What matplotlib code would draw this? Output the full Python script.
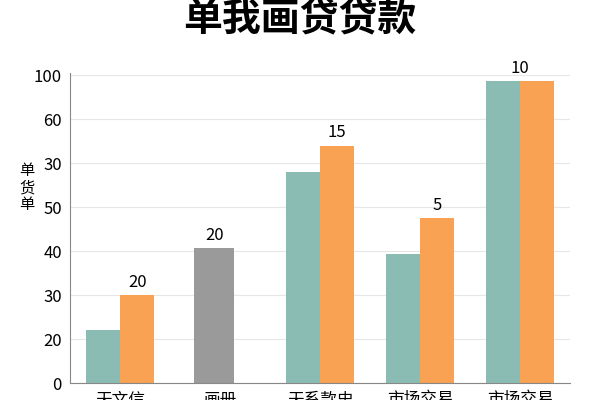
import matplotlib
matplotlib.use("Agg")
import matplotlib.pyplot as plt

plt.rcParams['font.family'] = ['Noto Sans CJK SC', 'DejaVu Sans']

categories = ["天文信", "画册", "天系款史", "市场交易", "市场交易"]
tick_labels = ["0", "20", "30", "40", "50", "30", "60", "100"]
teal_vals = [1.2, None, 4.8, 2.93, 6.86]
orange_vals = [2.0, None, 5.4, 3.75, 6.86]
gray_vals = [None, 3.07, None, None, None]
annotations = ["20", "20", "15", "5", "10"]

fig = plt.figure(figsize=(6, 4), dpi=100)
ax = fig.add_axes([0.117, 0.0425, 0.833, 0.775])
teal, orange, gray = "#8bbcb4", "#f9a253", "#9a9a9a"
w = 0.34
for i in range(len(categories)):
    if gray_vals[i] is not None:
        ax.bar(i - 0.06, gray_vals[i], 0.4, color=gray, zorder=2)
        ax.text(i - 0.06, gray_vals[i] + 0.1, annotations[i], ha='center', va='bottom', fontsize=12)
    else:
        ax.bar(i - w / 2, teal_vals[i], w, color=teal, zorder=2)
        ax.bar(i + w / 2, orange_vals[i], w, color=orange, zorder=2)
        top = max(teal_vals[i], orange_vals[i])
        ax.text(i + w / 2 if i != 4 else i, top + 0.1,
                annotations[i], ha='center', va='bottom', fontsize=12)

ax.set_xlim(-0.5, 4.5)
ax.set_ylim(0, 7.05)
ax.set_yticks(range(len(tick_labels)))
ax.set_yticklabels(tick_labels, fontsize=12)
ax.set_xticks(range(len(categories)))
ax.set_xticklabels(categories, fontsize=12)
ax.tick_params(length=0, pad=6)
ax.grid(axis='y', color='#e6e6e6', lw=0.8, zorder=0)
for s in ['top', 'right']:
    ax.spines[s].set_visible(False)
for s in ['left', 'bottom']:
    ax.spines[s].set_color('#888888')
fig.text(0.045, 0.53, "单\n货\n单", ha='center', va='center', fontsize=11, linespacing=1.0)
fig.text(0.5, 0.952, "单我画贷贷款", ha='center', va='center', fontsize=28, fontweight='bold')
fig.savefig("out.png")
